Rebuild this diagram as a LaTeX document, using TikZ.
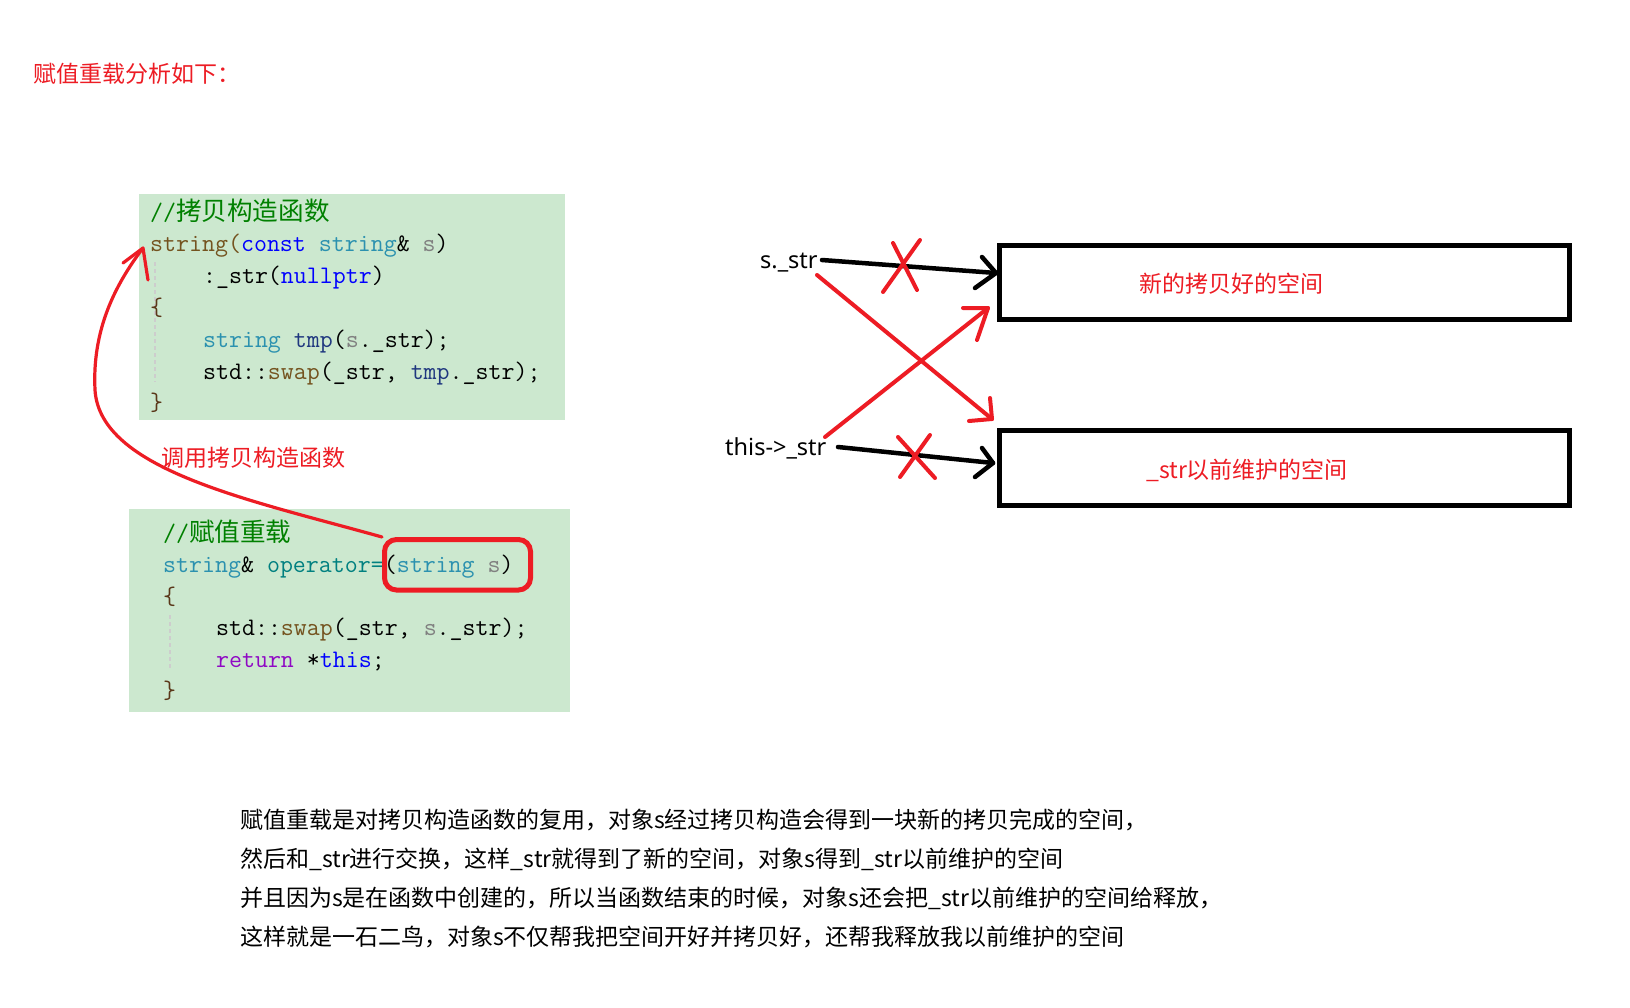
\documentclass[tikz,border=0pt]{standalone}
\usepackage{fontspec}
\newfontfamily\cjk{Noto Sans CJK SC}
\newfontfamily\lblfont{Noto Sans}
\newcommand\codefnt{\ttfamily\fontsize{25.2}{26}\selectfont}
\newcommand\zhcode[1]{{\cjk\fontsize{25.6}{26}\selectfont #1}}
\definecolor{bg}{RGB}{204,232,207}
\definecolor{rd}{RGB}{237,28,36}
\definecolor{cmt}{RGB}{0,128,0}
\definecolor{fn}{RGB}{116,83,31}
\definecolor{kw}{RGB}{0,0,255}
\definecolor{ty}{RGB}{43,145,175}
\definecolor{pm}{RGB}{128,128,128}
\definecolor{lc}{RGB}{31,55,127}
\definecolor{pu}{RGB}{143,8,196}
\definecolor{op}{RGB}{0,128,128}
\definecolor{br}{RGB}{90,55,25}
\definecolor{guide}{RGB}{205,205,205}
\begin{document}
\begin{tikzpicture}[x=1pt,y=-1pt,
  code/.style={anchor=base west, inner sep=0pt, font=\codefnt},
  zh/.style={anchor=base west, inner sep=0pt, font=\cjk\fontsize{23}{24}\selectfont},
  lbl/.style={anchor=base west, inner sep=0pt, font=\lblfont\fontsize{23.5}{24}\selectfont},
  codebg/.style={fill=bg, draw=none},
  guideline/.style={draw=guide, line width=2pt, dash pattern=on 4pt off 3pt},
  blkarrow/.style={draw=black, line width=4.5pt, line cap=round, line join=round},
  redarrow/.style={draw=rd, line width=4pt, line cap=round, line join=round},
  redcross/.style={draw=rd, line width=4pt, line cap=round},
  spacebox/.style={draw=black, line width=5pt, minimum width=570pt, inner sep=0pt}
]
\useasboundingbox (0,0) rectangle (1630,1007);
\fill[white] (0,0) rectangle (1630,1007);

% title
\node[zh, text=rd] (title) at (33,82) {赋值重载分析如下：};

% copy constructor code
\path[codebg] (139,194) rectangle (565,420);
\draw[guideline] (155,262) -- (155,382);
\node[code] (c1) at (150,220) {{\color{cmt}//\zhcode{拷贝构造函数}}};
\node[code] (c2) at (150,251.8) {{\color{fn}string(}{\color{kw}const} {\color{ty}string}\& {\color{pm}s})};
\node[code] (c3) at (202.9,283.6) {:\_str({\color{kw}nullptr})};
\node[code] (c4) at (150,315.4) {{\color{br}\{}};
\node[code] (c5) at (202.9,347.2) {{\color{ty}string} {\color{lc}tmp}({\color{pm}s}.\_str);};
\node[code] (c6) at (202.9,379) {std::{\color{fn}swap}(\_str, {\color{lc}tmp}.\_str);};
\node[code] (c7) at (150,410.8) {{\color{br}\}}};

% assignment operator code
\path[codebg] (129,509) rectangle (570,712);
\draw[guideline] (170,615) -- (170,668);
\node[code] (d1) at (163,541) {{\color{cmt}//\zhcode{赋值重载}}};
\node[code] (d2) at (163,572.4) {{\color{ty}string}\& {\color{op}operator=}({\color{ty}string} {\color{pm}s})};
\node[code] (d3) at (163,604) {{\color{br}\{}};
\node[code] (d4) at (215.9,635.6) {std::{\color{fn}swap}(\_str, {\color{pm}s}.\_str);};
\node[code] (d5) at (215.9,667.2) {{\color{pu}return} *{\color{kw}this};};
\node[code] (d6) at (163,698.8) {{\color{br}\}}};

% red highlight and call arrow
\node[draw=rd, line width=5pt, rounded corners=12pt, minimum width=146pt, minimum height=50.5pt, inner sep=0pt] (param) at (457.5,564.75) {};
\coordinate (ctip) at (143,248);
\draw[draw=rd, line width=3.2pt, line cap=round, line join=round]
  (param.north west) .. controls (250,500) and (100,470) .. (95,390)
  .. controls (92,330) and (115,285) .. (ctip);
\draw[draw=rd, line width=3.2pt, line cap=round, line join=round] (123,263) -- (ctip) -- (148,280);
\node[zh, text=rd] (calllbl) at (161,466) {调用拷贝构造函数};

% right diagram
\node[spacebox, minimum height=74pt] (newbox) at (1284.5,282.5) {};
\node[spacebox, minimum height=75.5pt] (oldbox) at (1284.5,467.75) {};
\node[zh, text=rd] (newlbl) at (1139,292) {新的拷贝好的空间};
\node[zh, text=rd] (oldlbl) at (1146,478) {\_str以前维护的空间};

\node[lbl] (sstr) at (760,268) {s.\_str};
\node[lbl] (thisstr) at (725,455) {this->\_str};

\coordinate (sA) at (822,260);
\coordinate (sTip) at (996,273);
\coordinate (tA) at (838,447);
\coordinate (tTip) at (993,463);
\coordinate (sB) at (817,275);
\coordinate (sBTip) at (992,419);
\coordinate (tB) at (825,437);
\coordinate (tBTip) at (988,308);

\draw[blkarrow] (sA) -- (sTip);
\draw[blkarrow] (982,257) -- (sTip) -- (975,288);
\draw[blkarrow] (tA) -- (tTip);
\draw[blkarrow] (982,448) -- (tTip) -- (975,477);

\draw[redarrow] (sB) -- (sBTip);
\draw[redarrow] (990,398) -- (sBTip) -- (969,421);
\draw[redarrow] (tB) -- (tBTip);
\draw[redarrow] (963,308) -- (tBTip) -- (977,340);

\draw[redcross] (893,243) -- (917,290);
\draw[redcross] (920,240) -- (883,292);
\draw[redcross] (898,437) -- (935,478);
\draw[redcross] (930,435) -- (900,477);

% explanation
\node[zh] (p1) at (240,828.5) {赋值重载是对拷贝构造函数的复用，对象s经过拷贝构造会得到一块新的拷贝完成的空间，};
\node[zh] (p2) at (240,867.5) {然后和\_str进行交换，这样\_str就得到了新的空间，对象s得到\_str以前维护的空间};
\node[zh] (p3) at (240,906.5) {并且因为s是在函数中创建的，所以当函数结束的时候，对象s还会把\_str以前维护的空间给释放，};
\node[zh] (p4) at (240,945.5) {这样就是一石二鸟，对象s不仅帮我把空间开好并拷贝好，还帮我释放我以前维护的空间};
\end{tikzpicture}
\end{document}
